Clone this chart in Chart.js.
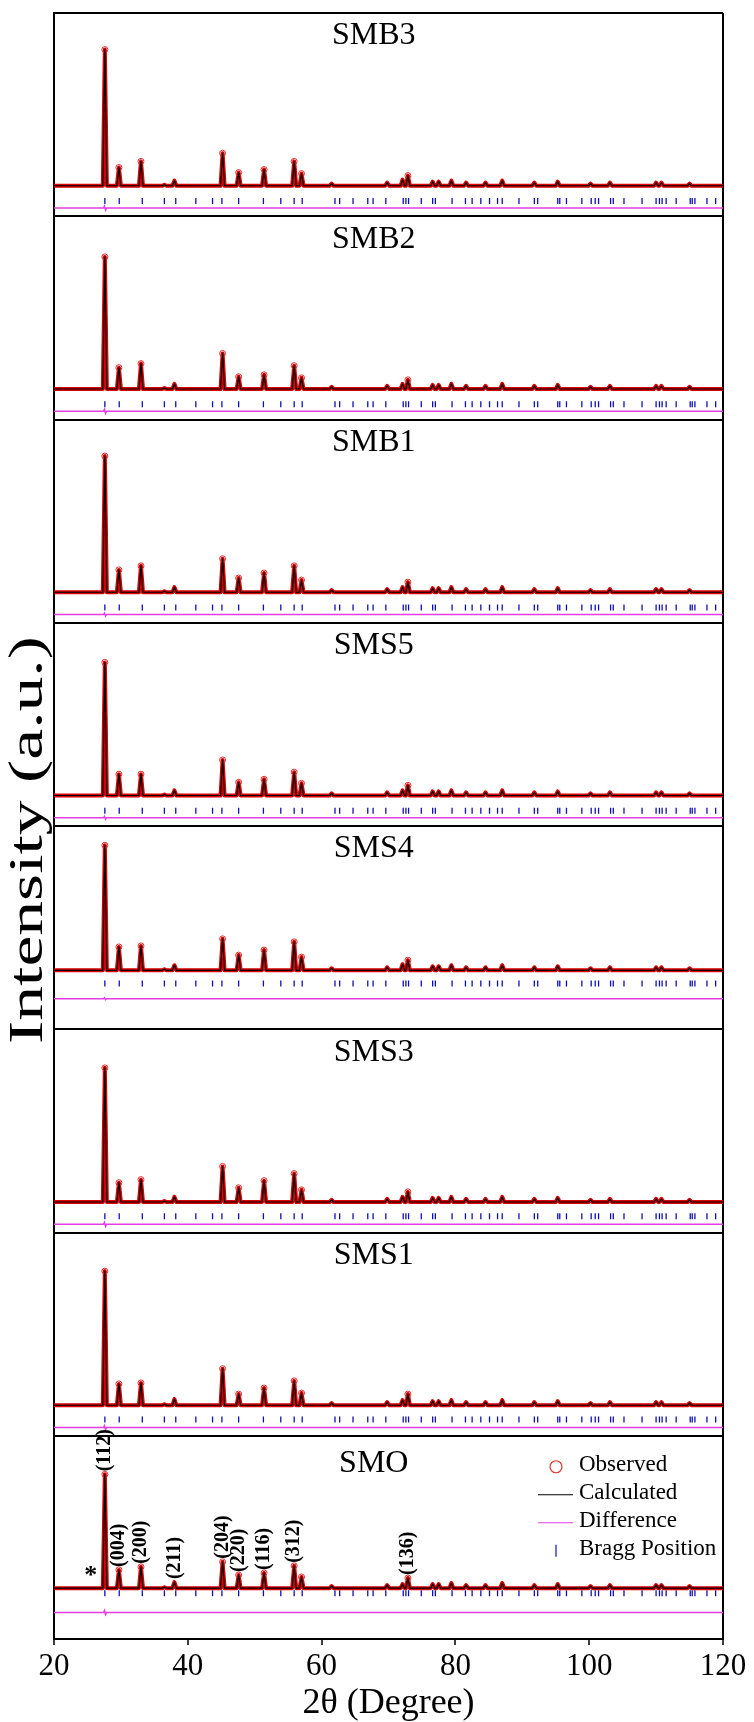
<!DOCTYPE html>
<html>
<head>
<meta charset="utf-8">
<title>Rietveld refinement - XRD patterns</title>
<script src="https://cdn.jsdelivr.net/npm/chart.js@4.4.0/dist/chart.umd.min.js"></script>
<style>
    html, body { margin: 0; padding: 0; background: #fff; }
    #wrap { width: 754px; height: 1722px; }
</style>
</head>
<body>
<div id="wrap"><canvas id="xrdChart" width="754" height="1722"></canvas></div>
<script>
// samples, top panel first
const samples = ['SMB3', 'SMB2', 'SMB1', 'SMS5', 'SMS4', 'SMS3', 'SMS1', 'SMO'];

// 2θ (degree) of the reflections that show as peaks
const peakPos = [27.6, 29.7, 33.0, 36.5, 38.0, 45.2, 47.6, 51.4, 55.9, 57.0, 61.5, 69.8, 72.1, 72.9,
    76.6, 77.5, 79.4, 81.6, 84.5, 87.0, 91.8, 95.3, 100.2, 103.1, 110.0, 110.8, 115.0];

// peak heights above background (a.u.), same order as peakPos
const hSMB3 = [134, 18, 24, 1, 5, 32, 13, 16, 24, 12, 2, 3, 6, 10, 4, 4, 5, 3, 3, 5, 3, 4, 2, 3, 3, 3, 2];
const hSMB2 = [130, 21, 25, 1, 5, 35, 12, 14, 23, 11, 2, 3, 5, 9, 4, 4, 5, 3, 3, 5, 3, 4, 2, 3, 3, 3, 2];
const hSMB1 = [134, 22, 26, 1, 5, 33, 14, 19, 26, 12, 2, 3, 5, 10, 4, 4, 5, 3, 3, 5, 3, 4, 2, 3, 3, 3, 2];
const hSMS5 = [131, 21, 21, 1, 5, 35, 13, 16, 23, 12, 2, 3, 5, 10, 4, 4, 5, 3, 3, 5, 3, 4, 2, 3, 3, 3, 2];
const hSMS4 = [123, 23, 24, 1, 5, 31, 15, 20, 28, 13, 2, 3, 6, 10, 4, 4, 5, 3, 3, 5, 3, 4, 2, 3, 3, 3, 2];
const hSMS3 = [132, 19, 22, 1, 5, 35, 14, 21, 28, 12, 2, 3, 5, 10, 4, 4, 5, 3, 3, 5, 3, 4, 2, 3, 3, 3, 2];
const hSMS1 = [132, 21, 22, 1, 6, 36, 11, 17, 24, 12, 2, 3, 5, 11, 4, 4, 5, 3, 3, 5, 3, 4, 2, 3, 3, 3, 2];
const hSMO  = [112, 18, 21, 1, 6, 26, 13, 15, 22, 11, 2, 3, 4, 10, 4, 4, 5, 3, 3, 5, 3, 4, 2, 3, 3, 3, 2];
const heights = [hSMB3, hSMB2, hSMB1, hSMS5, hSMS4, hSMS3, hSMS1, hSMO];

// small residual at the (112) peak in the difference curve
const diffMain = [2, 2, 1.5, 1.5, 1, 2, 2, 2];

// Bragg positions (2θ)
const braggPos = [27.6, 29.75, 33.2, 36.5, 38.2, 41.2, 43.7, 45.1, 47.6, 51.3, 53.9, 55.9, 57.1,
    62.0, 62.7, 64.7, 66.9, 67.7, 69.6, 72.2, 72.6, 73.0, 74.9, 76.6, 77.0, 79.5, 81.5, 82.5,
    83.8, 85.1, 86.3, 87.0, 89.5, 91.8, 92.3, 95.3, 95.6, 96.6, 98.9, 100.3, 100.9, 101.4,
    103.2, 103.6, 105.2, 107.9, 110.0, 110.5, 110.9, 111.5, 113.0, 115.1, 115.4, 115.8, 117.6, 118.9];

// Miller indices marked on the SMO pattern
const hklText = ['(112)', '(004)', '(200)', '(211)', '(204)', '(220)', '(116)', '(312)', '(136)'];
const hklTheta = [27.6, 29.7, 33.0, 38.0, 45.2, 47.6, 51.4, 55.9, 72.9];
const impurityTheta = 25.5;

const xTicks = [20, 40, 60, 80, 100, 120];

// panel layout (units from the bottom of each panel, panel = 200 units)
const PANEL = 200;
const layoutLevels = {
    base:  [30, 30, 30, 30, 58, 30, 30, 50],
    bragg: [15, 15, 15, 15, 45, 16, 16, 45],
    diff:  [8, 8, 8, 8, 30, 8, 8, 26]
};
const halfWidth = 0.3;
const serif = "'Liberation Serif', 'Times New Roman', serif";

function panelBottom(i) {
    return (samples.length - 1 - i) * PANEL;
}

function buildProfile(i) {
    const base = panelBottom(i) + layoutLevels.base[i];
    const pts = [{x: 20, y: base}];
    peakPos.forEach((p, k) => {
        const h = heights[i][k];
        pts.push({x: p - halfWidth, y: base});
        pts.push({x: p, y: base + h, h: h});
        pts.push({x: p + halfWidth, y: base});
    });
    pts.push({x: 120, y: base});
    return pts;
}

function buildDiff(i) {
    const d = panelBottom(i) + layoutLevels.diff[i];
    const m = diffMain[i];
    return [
        {x: 20, y: d}, {x: 27.4, y: d}, {x: 27.55, y: d + m},
        {x: 27.7, y: d - m}, {x: 27.85, y: d}, {x: 120, y: d}
    ];
}

function buildBragg(i) {
    const b = panelBottom(i) + layoutLevels.bragg[i];
    return braggPos.map(x => ({x: x, y: b}));
}

const datasets = [];
samples.forEach((name, i) => {
    const prof = buildProfile(i);
    datasets.push({
        label: name + ' calculated',
        data: prof,
        borderColor: '#000',
        borderWidth: 1.2,
        borderJoinStyle: 'round',
        pointRadius: 0,
        order: 1
    });
    datasets.push({
        label: name + ' observed',
        data: prof,
        borderColor: '#d80000',
        borderWidth: 4,
        borderJoinStyle: 'round',
        pointRadius: ctx => (ctx.raw && ctx.raw.h >= 8 ? 3 : 0),
        pointBorderColor: '#e03030',
        pointBackgroundColor: 'rgba(0,0,0,0)',
        pointBorderWidth: 1,
        order: 2
    });
    datasets.push({
        label: name + ' difference',
        data: buildDiff(i),
        borderColor: '#e23ee2',
        borderWidth: 1.5,
        pointRadius: 0,
        order: 3
    });
    datasets.push({
        label: name + ' Bragg',
        data: buildBragg(i),
        showLine: false,
        pointStyle: 'line',
        rotation: 90,
        pointRadius: 3,
        borderColor: '#1010b0',
        borderWidth: 1.3,
        order: 3
    });
});

// y title, panel names, hkl labels and the legend in the SMO panel
const annotations = {
    id: 'annotations',
    afterDatasetsDraw(chart) {
        const {ctx, chartArea, scales: {x, y}} = chart;
        ctx.save();
        ctx.fillStyle = '#000';

        // y axis title, stretched along its length like the original
        ctx.save();
        ctx.translate(29, (chartArea.top + chartArea.bottom) / 2 + 14);
        ctx.rotate(-Math.PI / 2);
        ctx.scale(1.45, 1);
        ctx.font = '48px ' + serif;
        ctx.textAlign = 'center';
        ctx.textBaseline = 'middle';
        ctx.fillText('Intensity (a.u.)', 0, 0);
        ctx.restore();

        // sample names
        ctx.font = '32px ' + serif;
        ctx.textAlign = 'center';
        ctx.textBaseline = 'middle';
        samples.forEach((name, i) => {
            const top = y.getPixelForValue(panelBottom(i) + PANEL);
            const dy = i === samples.length - 1 ? 28 : 23;
            ctx.fillText(name, x.getPixelForValue(67.8), top + dy);
        });

        // hkl labels on SMO
        const last = samples.length - 1;
        const base = panelBottom(last) + layoutLevels.base[last];
        ctx.font = 'bold 20px ' + serif;
        ctx.textAlign = 'left';
        hklText.forEach((txt, k) => {
            const idx = peakPos.indexOf(hklTheta[k]);
            const top = y.getPixelForValue(base + heights[last][idx]);
            ctx.save();
            ctx.translate(x.getPixelForValue(hklTheta[k]), top - 3);
            ctx.rotate(-Math.PI / 2);
            ctx.fillText(txt, 0, 0);
            ctx.restore();
        });
        ctx.font = 'bold 26px ' + serif;
        ctx.textAlign = 'center';
        ctx.fillText('*', x.getPixelForValue(impurityTheta), y.getPixelForValue(base) - 12);

        // legend
        const panelTop = y.getPixelForValue(panelBottom(last) + PANEL);
        const symX = 556, textX = 579;
        const rows = ['Observed', 'Calculated', 'Difference', 'Bragg Position'];
        ctx.font = '23px ' + serif;
        ctx.textAlign = 'left';
        rows.forEach((txt, k) => {
            const cy = panelTop + 29 + k * 28;
            ctx.fillStyle = '#000';
            ctx.fillText(txt, textX, cy);
            ctx.lineWidth = 1.2;
            if (k === 0) {
                ctx.strokeStyle = '#e03030';
                ctx.beginPath();
                ctx.arc(symX, cy + 2, 6, 0, Math.PI * 2);
                ctx.stroke();
            } else if (k === 3) {
                ctx.strokeStyle = '#1010b0';
                ctx.beginPath();
                ctx.moveTo(symX, cy - 4);
                ctx.lineTo(symX, cy + 8);
                ctx.stroke();
            } else {
                ctx.strokeStyle = k === 1 ? '#000' : '#e23ee2';
                ctx.beginPath();
                ctx.moveTo(538, cy + 2);
                ctx.lineTo(573, cy + 2);
                ctx.stroke();
            }
        });
        ctx.restore();
    }
};

new Chart(document.getElementById('xrdChart').getContext('2d'), {
    type: 'line',
    data: { datasets: datasets },
    options: {
        responsive: false,
        animation: false,
        events: [],
        layout: { padding: { top: 13, right: 31, left: 0, bottom: 0 } },
        plugins: { legend: { display: false }, tooltip: { enabled: false } },
        elements: { line: { tension: 0 } },
        scales: {
            x: {
                type: 'linear',
                min: 20,
                max: 120,
                afterBuildTicks: scale => { scale.ticks = xTicks.map(v => ({value: v})); },
                afterFit: scale => { scale.height = 83; },
                ticks: {
                    color: '#000',
                    padding: 6,
                    maxRotation: 0,
                    font: { family: serif, size: 31, lineHeight: 1 }
                },
                grid: {
                    color: ctx => (ctx.tick && ctx.tick.value === 120 ? '#000' : 'rgba(0,0,0,0)'),
                    lineWidth: 2,
                    tickColor: '#000',
                    tickLength: 6,
                    tickWidth: 1.5
                },
                border: { color: '#000', width: 2 },
                title: {
                    display: true,
                    text: '2θ (Degree)',
                    color: '#000',
                    padding: { top: 0, bottom: 0 },
                    font: { family: serif, size: 36, lineHeight: 1 }
                }
            },
            y: {
                min: 0,
                max: samples.length * PANEL,
                afterFit: scale => { scale.width = 54; },
                ticks: { display: false, stepSize: PANEL },
                grid: { color: '#000', lineWidth: 2, drawTicks: false },
                border: { color: '#000', width: 2 },
                title: { display: false }
            }
        }
    },
    plugins: [annotations]
});
</script>
</body>
</html>
